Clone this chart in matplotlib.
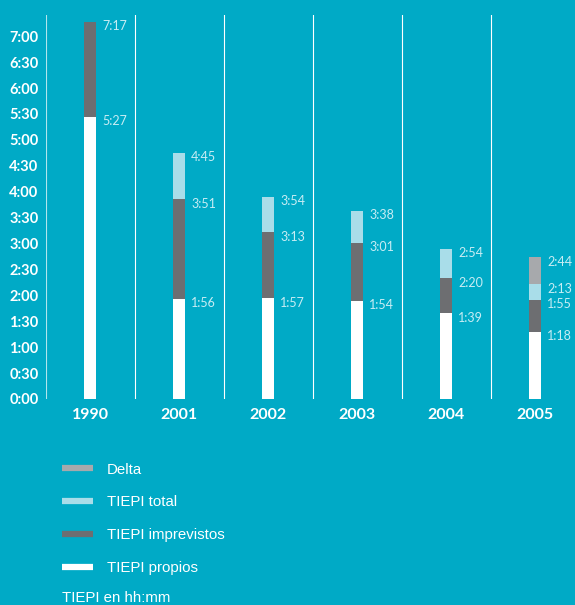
import numpy as np
import matplotlib
matplotlib.use("Agg")
import matplotlib.pyplot as plt
from matplotlib.lines import Line2D

# TIEPI values in minutes (cumulative tops of each segment)
years = ["1990", "2001", "2002", "2003", "2004", "2005"]
propios = [327, 116, 117, 114, 99, 78]          # 5:27 1:56 1:57 1:54 1:39 1:18
imprevistos = [437, 231, 193, 181, 140, 115]    # 7:17 3:51 3:13 3:01 2:20 1:55
total = [np.nan, 285, 234, 218, 174, 133]       # 4:45 3:54 3:38 2:54 2:13
delta = [np.nan, np.nan, np.nan, np.nan, np.nan, 164]  # 2:44

yticks = list(range(0, 421, 30))

BG = "#00aac6"
C_PROP = "#ffffff"
C_IMPR = "#6d6e71"
C_TOT = "#a9dde9"
C_DELTA = "#a7a9ac"
C_LAB = "#c8edf4"


def hhmm(m):
    return "%d:%02d" % (m // 60, m % 60)


fig = plt.figure(figsize=(5.75, 6.05), dpi=100, facecolor=BG)
ax = fig.add_axes([45.5 / 575, 0.3405, 529.5 / 575, 0.6347], facecolor=BG)

x = np.arange(len(years))
w = 0.135
p = np.array(propios, float)
i = np.array(imprevistos, float)
t = np.array(total, float)
d = np.array(delta, float)

ax.bar(x, p, w, color=C_PROP, zorder=3)
ax.bar(x, i - p, w, bottom=p, color=C_IMPR, zorder=3)
ax.bar(x, t - i, w, bottom=i, color=C_TOT, zorder=3)
ax.bar(x, d - t, w, bottom=t, color=C_DELTA, zorder=3)

for k in range(len(years)):
    for v in (propios[k], imprevistos[k], total[k], delta[k]):
        if np.isnan(v):
            continue
        ax.annotate(hhmm(int(v)), xy=(x[k] + w / 2, v), xytext=(4.3, -3.3),
                    textcoords="offset points", va="center", ha="left",
                    fontsize=9, color=C_LAB, family="Lato")

# white separators between years
for s in np.arange(-0.5, len(years) - 1, 1.0):
    ax.axvline(s, color="white", lw=0.8, alpha=0.7 if s < 0 else 1.0, zorder=1)

ax.set_xlim(-0.5, 5.449)
ax.set_ylim(0, 444.6)
ax.set_yticks(yticks)
ax.set_yticklabels([hhmm(v) for v in yticks])
ax.set_xticks(x)
ax.set_xticklabels(years)
for sp in ax.spines.values():
    sp.set_visible(False)
ax.tick_params(axis="y", length=0, pad=5, labelsize=10.5, labelcolor="white")
ax.tick_params(axis="x", length=0, pad=6.5, labelsize=11.5, labelcolor="white")
for lab in ax.get_yticklabels() + ax.get_xticklabels():
    lab.set_fontweight("bold")
    lab.set_family("Lato")

handles = [Line2D([], [], color=c, lw=4.5, solid_capstyle="butt")
           for c in (C_DELTA, C_TOT, C_IMPR, C_PROP)]
leg = fig.legend(handles, ["Delta", "TIEPI total", "TIEPI imprevistos", "TIEPI propios"],
                 loc="upper left", bbox_to_anchor=(48 / 575, 1 - 449 / 605),
                 frameon=False, handlelength=2.07, handletextpad=0.95,
                 labelspacing=1.26, prop={"family": "Liberation Sans", "size": 10.8})
for txt in leg.get_texts():
    txt.set_color("white")

fig.text(62 / 575, 1 - 598 / 605, "TIEPI en hh:mm", color="white", fontsize=10.8,
         family="Liberation Sans", va="center", ha="left")

fig.savefig("out.png", dpi=100, facecolor=BG)
